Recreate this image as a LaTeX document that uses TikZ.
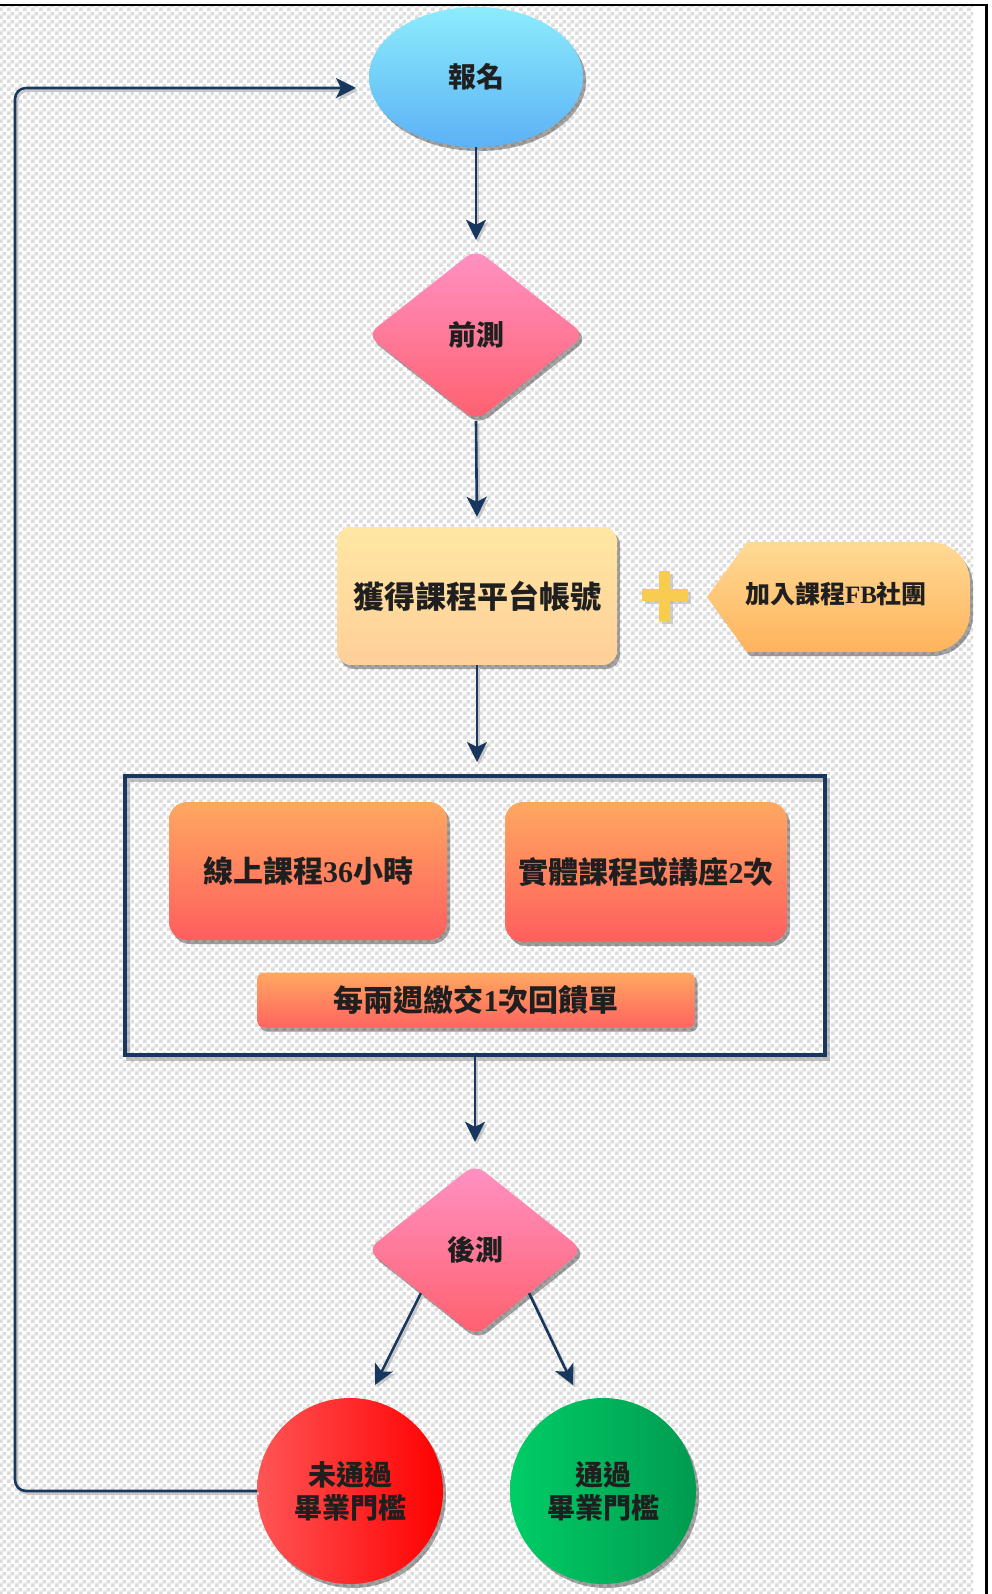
\documentclass[tikz,border=0pt]{standalone}
\usepackage{fontspec}
\setmainfont{Liberation Serif}
\newfontfamily\cjk{Noto Sans CJK TC}
\usetikzlibrary{shapes.geometric,shadows,arrows.meta,patterns,calc}
\definecolor{navy}{HTML}{17375E}
\definecolor{plusc}{HTML}{F8CD4F}
\pgfdeclarepatternformonly{chk}{\pgfpointorigin}{\pgfqpoint{8pt}{8pt}}{\pgfqpoint{8pt}{8pt}}{%
  \pgfpathrectangle{\pgfpointorigin}{\pgfqpoint{4pt}{4pt}}%
  \pgfpathrectangle{\pgfqpoint{4pt}{4pt}}{\pgfqpoint{4pt}{4pt}}%
  \pgfusepath{fill}}
\newcommand\zh[1]{{\cjk #1}}
\tikzset{
  shad/.style={drop shadow={opacity=0.35, shadow xshift=3pt, shadow yshift=-4pt, fill=black}},
  lbl/.style={text=black!88, align=center},
  conn/.style={navy, line width=2.6pt, -{Stealth[length=20pt,width=20pt,inset=5pt]},
    preaction={draw=black!22, line width=2.6pt, transform canvas={xshift=2pt,yshift=-2.5pt}}},
  fs/.style={font=\bfseries\fontsize{#1}{33}\selectfont}
}
\begin{document}
\begin{tikzpicture}[x=1pt,y=-1pt]
\useasboundingbox (0,0) rectangle (991,1594);
\fill[white] (0,0) rectangle (991,1594);
\fill[pattern=chk, pattern color=black!14] (0,6) rectangle (973,1594);
\draw[black, line width=2.5pt] (0,5) -- (988,5);
\fill[black] (984.5,4) rectangle (988,1594);

% nodes
\node[ellipse, minimum width=214pt, minimum height=140pt, inner sep=0,
  top color={rgb,255:red,140;green,236;blue,252}, bottom color={rgb,255:red,92;green,178;blue,246}, shad, lbl, fs=28]
  (reg) at (476,77) {\zh{報名}};

\node[diamond, minimum width=218pt, minimum height=172pt, inner sep=0, rounded corners=12pt,
  top color={rgb,255:red,255;green,146;blue,196}, bottom color={rgb,255:red,255;green,96;blue,110}, shad, lbl, fs=28]
  (pre) at (476,335) {\zh{前測}};

\node[rectangle, rounded corners=14pt, minimum width=280pt, minimum height=138pt,
  top color={rgb,255:red,255;green,231;blue,163}, bottom color={rgb,255:red,255;green,207;blue,153}, shad, lbl, fs=31]
  (acct) at (477,596) {\zh{獲得課程平台帳號}};

% plus sign
\fill[black!30, opacity=0.6] (645,592) rectangle (691,604);
\fill[black!30, opacity=0.6] (662,574) rectangle (673,624);
\fill[plusc] (642,589) rectangle (688,601);
\fill[plusc] (659,571) rectangle (670,621);

% FB tag
\path[top color={rgb,255:red,255;green,218;blue,149}, bottom color={rgb,255:red,255;green,179;blue,92}, shad]
  (707,597) -- (747,542) -- (930,542) arc[start angle=90, end angle=0, radius=40pt]
  -- (970,612) arc[start angle=0, end angle=-90, radius=40pt] -- (747,652) -- cycle;
\node[lbl, fs=25] (fb) at (836,594) {\zh{加入課程}FB\zh{社團}};

% frame
\draw[black!40, opacity=0.6, line width=4pt] (128,780) rectangle (828,1059);
\node[draw=navy, line width=4pt, minimum width=700pt, minimum height=279pt, inner sep=0]
  (frame) at (475,915.5) {};

\node[rectangle, rounded corners=18pt, minimum width=278pt, minimum height=138pt,
  top color={rgb,255:red,255;green,168;blue,96}, bottom color={rgb,255:red,255;green,94;blue,94}, shad, lbl, fs=30]
  (box1) at (308,871) {\zh{線上課程}36\zh{小時}};
\node[rectangle, rounded corners=18pt, minimum width=282pt, minimum height=140pt,
  top color={rgb,255:red,255;green,168;blue,96}, bottom color={rgb,255:red,255;green,94;blue,94}, shad, lbl, fs=30]
  (box2) at (646,872) {\zh{實體課程或講座}2\zh{次}};
\node[rectangle, rounded corners=6pt, minimum width=437pt, minimum height=55pt,
  top color={rgb,255:red,255;green,168;blue,96}, bottom color={rgb,255:red,255;green,100;blue,96}, shad, lbl, fs=30]
  (bar) at (476,1000) {\zh{每兩週繳交}1\zh{次回饋單}};

\node[diamond, minimum width=216pt, minimum height=172pt, inner sep=0, rounded corners=12pt,
  top color={rgb,255:red,255;green,146;blue,196}, bottom color={rgb,255:red,255;green,96;blue,110}, shad, lbl, fs=28]
  (post) at (475,1250) {\zh{後測}};

\node[circle, minimum size=186pt, inner sep=0,
  left color={rgb,255:red,255;green,85;blue,85}, right color={rgb,255:red,255;green,0;blue,0}, shad, lbl, fs=28]
  (fail) at (350,1491) {\zh{未通過}\\\zh{畢業門檻}};
\node[circle, minimum size=186pt, inner sep=0,
  left color={rgb,255:red,0;green,205;blue,102}, right color={rgb,255:red,0;green,155;blue,80}, shad, lbl, fs=28]
  (pass) at (603,1491) {\zh{通過}\\\zh{畢業門檻}};

% coordinates
\coordinate (failin) at (375,1385);
\coordinate (passin) at (573,1385);
\coordinate (loopbl) at (15,1491);
\coordinate (looptl) at (15,88);
\coordinate (regin) at (356,88);

% connectors
\draw[conn, shorten >=9pt] (reg.south) -- (pre.north);
\draw[conn, shorten >=10pt] (pre.south) -- (acct.north);
\draw[conn, shorten >=12pt] (acct.south) -- (acct.south |- frame.north);
\draw[conn, shorten >=22pt] (frame.south) -- (post.north);
\draw[conn] ($(post.west)!0.5!(post.south)$) -- (failin);
\draw[conn] ($(post.east)!0.5!(post.south)$) -- (passin);
\draw[conn, rounded corners=11pt] (fail.west) -- (loopbl) -- (looptl) -- (regin);
\end{tikzpicture}
\end{document}
